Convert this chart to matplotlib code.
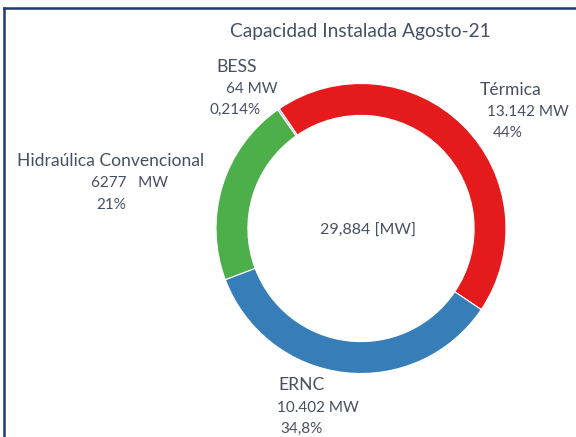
import matplotlib
matplotlib.use("Agg")
import matplotlib.pyplot as plt
from matplotlib.lines import Line2D

plt.rcParams['font.family'] = ['Lato', 'DejaVu Sans']

# data
categorias = ['Térmica', 'BESS', 'Hidraúlica Convencional', 'ERNC']
potencia_mw = [13142, 64, 6277, 10402]
texto_mw = ['13.142 MW', '64 MW', '6277   MW', '10.402 MW']
texto_pct = ['44%', '0,214%', '21%', '34,8%']
colores = ['#e41a1c', '#b49ac4', '#4daf4a', '#377eb8']
total_txt = '29,884 [MW]'
titulo = 'Capacidad Instalada Agosto-21'

W, H = 576, 437
fig = plt.figure(figsize=(W / 100, H / 100), dpi=100)

def fx(x):
    return x / W

def fy(y):
    return 1 - y / H

# frame line (left and top)
fig.add_artist(Line2D([fx(4), fx(4)], [fy(8), 0], color='#1f3a6e', lw=1.8))
fig.add_artist(Line2D([fx(4), 1], [fy(8), fy(8)], color='#1f3a6e', lw=1.8))

# donut
cx, cy, r = 361, 228.5, 145
ax = fig.add_axes([fx(cx - r), fy(cy + r), 2 * r / W, 2 * r / H])
ax.pie(potencia_mw, colors=colores, startangle=-34, counterclock=True,
       wedgeprops=dict(width=0.22, edgecolor='white', linewidth=0.8))
ax.set_aspect('auto')
ax.set_xlim(-1, 1)
ax.set_ylim(-1, 1)

col = '#465063'
fig.text(fx(360), fy(31), titulo, ha='center', va='center', fontsize=13.8, color=col)
fig.text(fx(368), fy(231), total_txt, ha='center', va='center', fontsize=11.5, color=col)

# labels: (x, y) of name line, MW line, percent line
pos = {
    'Térmica': [(480, 90), (487, 112), (493, 133)],
    'BESS': [(216, 67), (226, 89), (209, 110)],
    'Hidraúlica Convencional': [(17, 161), (91, 183), (96, 205)],
    'ERNC': [(278, 385), (277, 408), (280, 429)],
}
for cat, mw, pct in zip(categorias, texto_mw, texto_pct):
    p = pos[cat]
    for (x, y), s, size in zip(p, [cat, mw, pct], [12.6, 11, 11]):
        fig.text(fx(x), fy(y), s, ha='left', va='center', fontsize=size, color=col)

fig.savefig('out.png', dpi=100)
